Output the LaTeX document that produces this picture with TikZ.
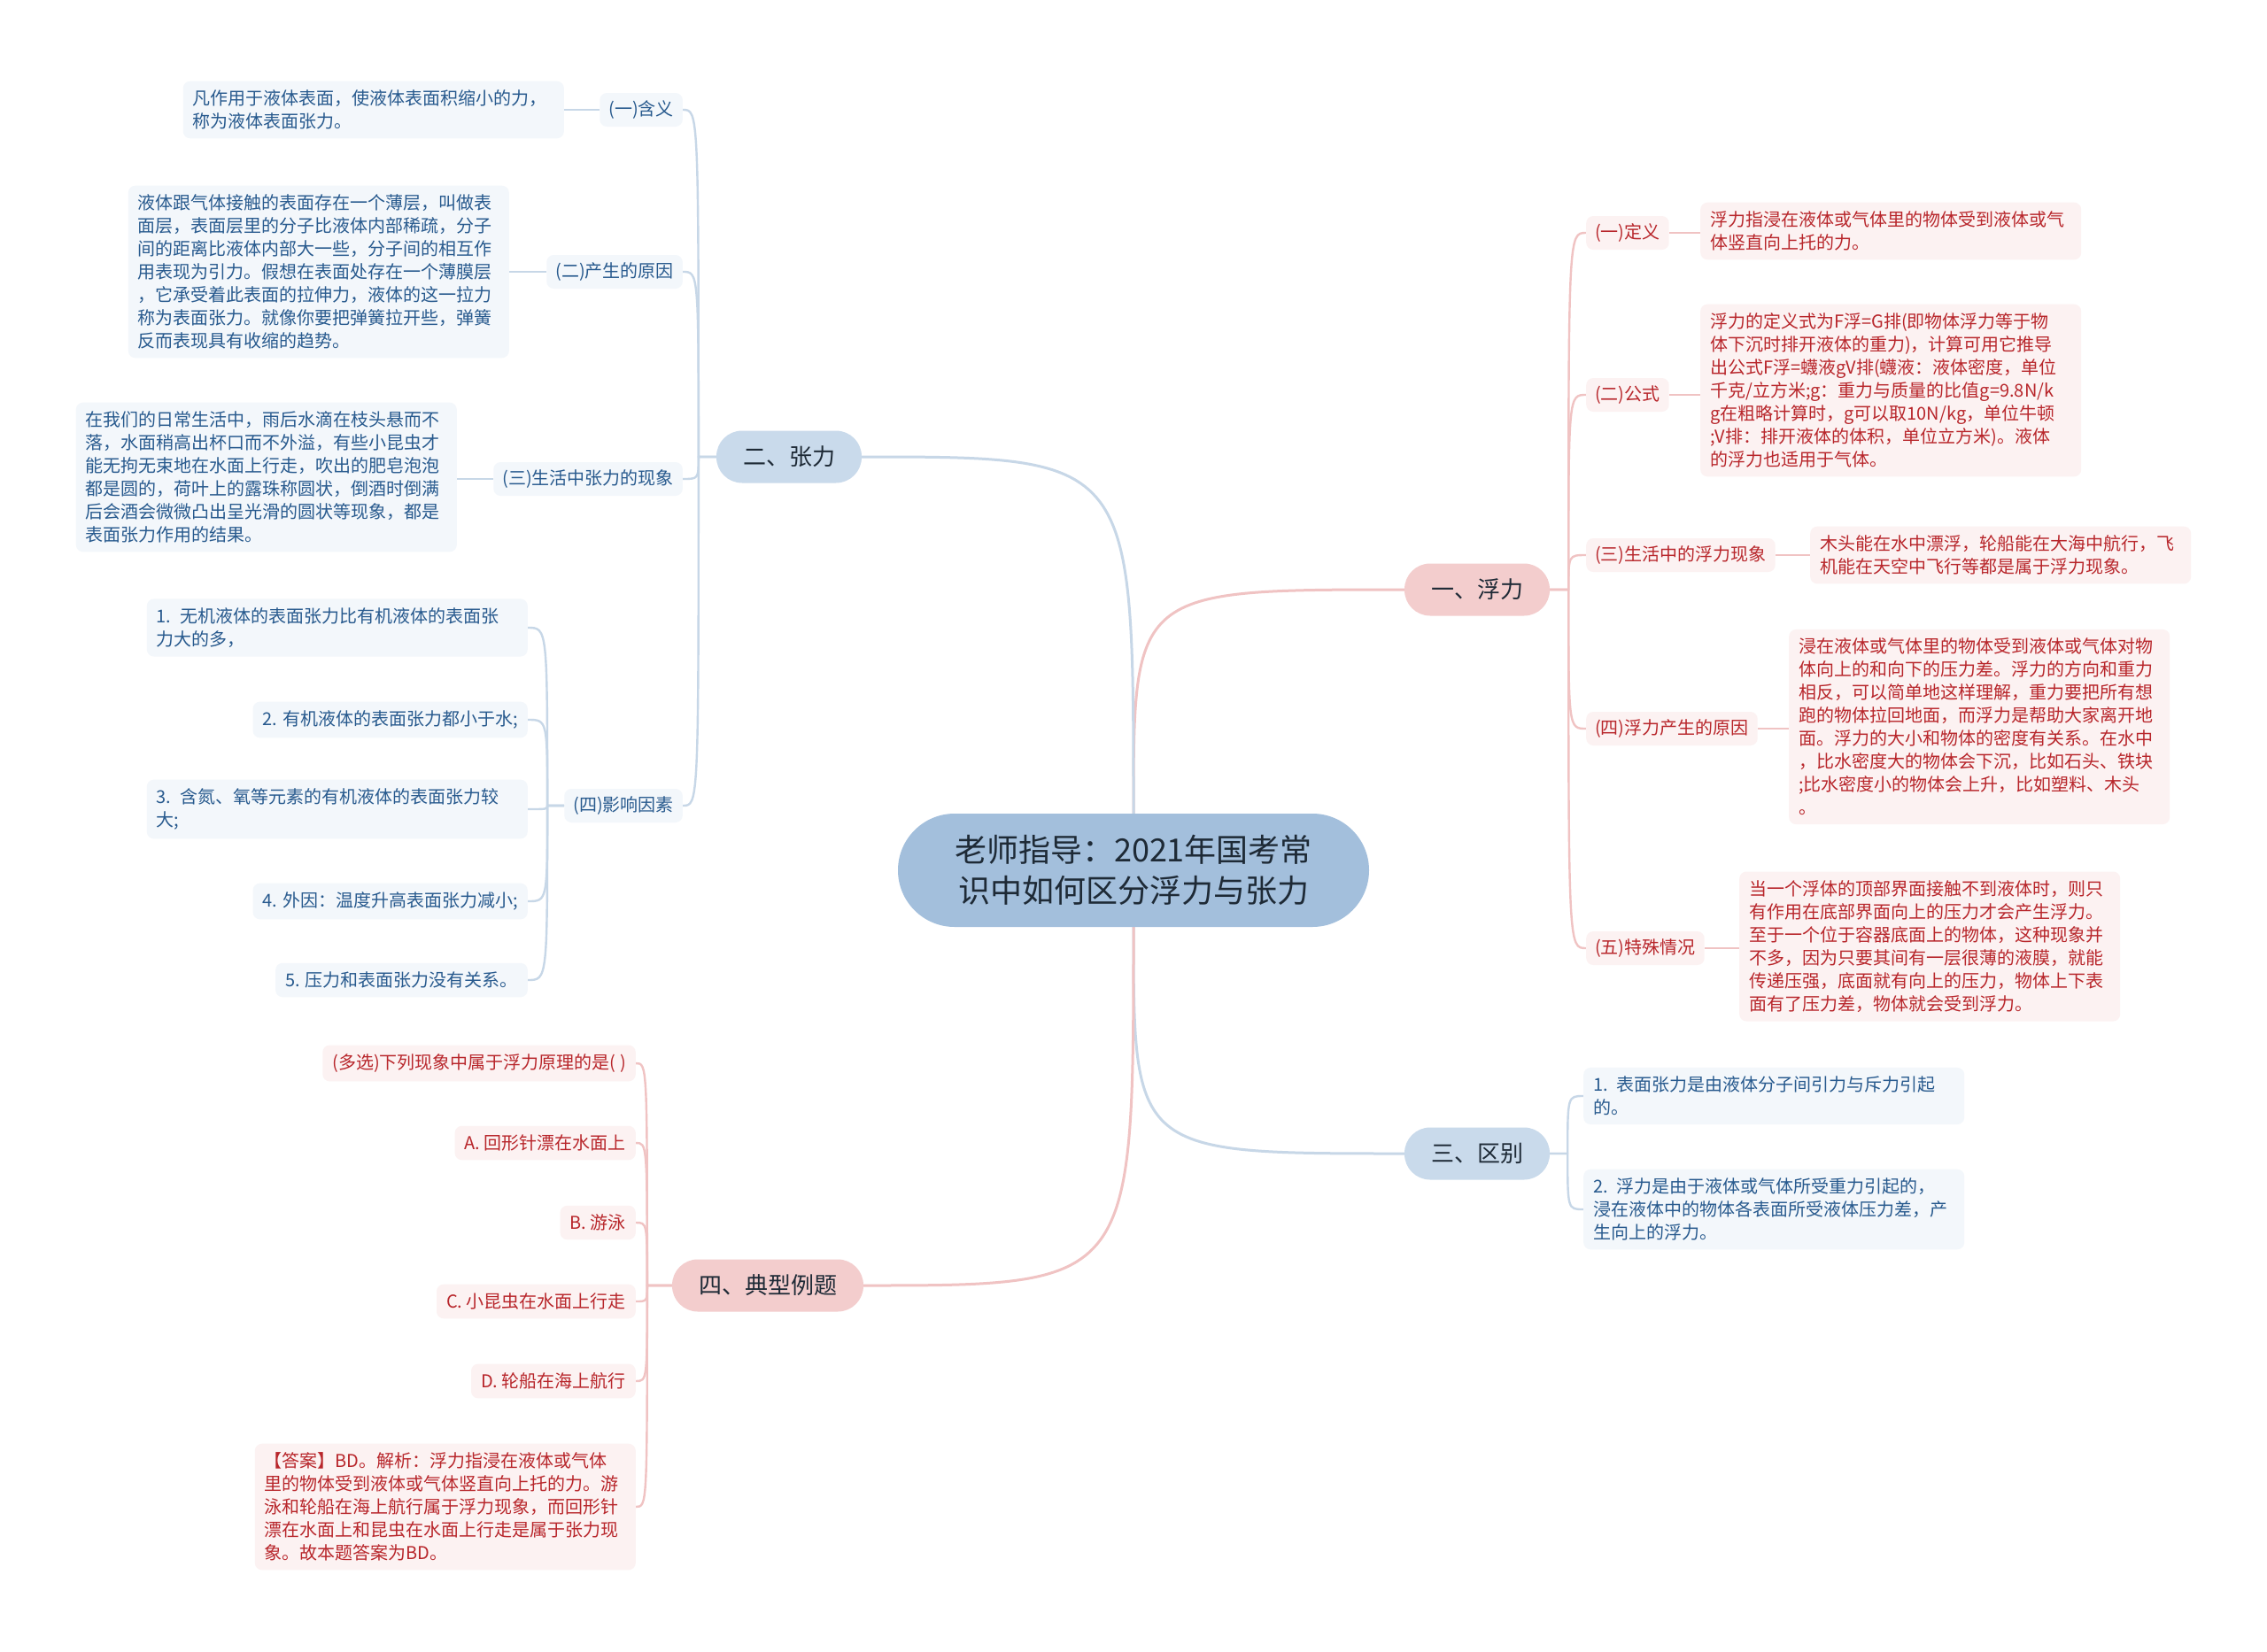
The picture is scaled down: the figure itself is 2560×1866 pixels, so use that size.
\documentclass[tikz,border=0pt]{standalone}
\usepackage{fontspec}
\setmainfont{Noto Sans CJK SC}
\definecolor{mainfill}{HTML}{A3BFDC}
\definecolor{pinkLone}{HTML}{F3CDCD}
\definecolor{blueLone}{HTML}{C9DAEB}
\definecolor{pinkbg}{HTML}{FCF2F2}
\definecolor{bluebg}{HTML}{F3F7FB}
\definecolor{redtxt}{HTML}{B8262B}
\definecolor{bluetxt}{HTML}{285A8E}
\definecolor{pinkline}{HTML}{F0C3C3}
\definecolor{blueline}{HTML}{C7D7E7}
\definecolor{darktxt}{HTML}{1E2A36}
\pgfdeclarelayer{paper}
\pgfdeclarelayer{bg}
\pgfsetlayers{paper,bg,main}
\tikzset{
  rootnode/.style={fill=mainfill, text=darktxt, rounded corners=64pt, minimum width=532pt, minimum height=128pt, align=center, font=\fontsize{36}{46}\selectfont, inner sep=0pt},
  lonep/.style={fill=pinkLone, text=darktxt, rounded corners=29pt, minimum height=59pt, font=\fontsize{26}{30}\selectfont, inner xsep=30pt, inner ysep=0pt},
  loneb/.style={lonep, fill=blueLone},
  rleaf/.style={fill=pinkbg, text=redtxt, rounded corners=8pt, align=left, font=\fontsize{20}{26}\selectfont, inner xsep=11pt, inner ysep=10pt},
  bleaf/.style={rleaf, fill=bluebg, text=bluetxt},
  rlab/.style={rleaf, minimum height=38pt, inner ysep=0pt, inner xsep=10pt},
  blab/.style={bleaf, minimum height=38pt, inner ysep=0pt, inner xsep=10pt},
  wide/.style={text width=408pt},
  pcon/.style={draw=pinkline, line width=2.4pt, line join=round},
  bcon/.style={draw=blueline, line width=2.4pt, line join=round},
  thick1/.style={line width=3pt},
}
\begin{document}
\begin{tikzpicture}[x=1pt,y=-1pt]
\begin{pgfonlayer}{paper}
\fill[white] (0,0) rectangle (2560,1866);
\end{pgfonlayer}
\useasboundingbox (0,0) rectangle (2560,1866);

% root and first level
\node[rootnode] (root) at (1280,983) {老师指导：2021年国考常\\识中如何区分浮力与张力};
\node[lonep] (fu) at (1668,666) {一、浮力};
\node[loneb] (zhang) at (891,516) {二、张力};
\node[loneb] (qu) at (1668,1303) {三、区别};
\node[lonep] (li) at (867,1452) {四、典型例题};

% 一、浮力
\node[rlab, anchor=west] (f1) at (1791,263) {(一)定义};
\node[rlab, anchor=west] (f2) at (1791,446) {(二)公式};
\node[rlab, anchor=west] (f3) at (1791,627) {(三)生活中的浮力现象};
\node[rlab, anchor=west] (f4) at (1791,823) {(四)浮力产生的原因};
\node[rlab, anchor=west] (f5) at (1791,1071) {(五)特殊情况};

\node[rleaf, wide, anchor=west] (f1c) at (1920,261) {浮力指浸在液体或气体里的物体受到液体或气\\体竖直向上托的力。};
\node[rleaf, wide, anchor=west] (f2c) at (1920,441) {浮力的定义式为F浮=G排(即物体浮力等于物\\体下沉时排开液体的重力)，计算可用它推导\\出公式F浮=蠛液gV排(蠛液：液体密度，单位\\千克/立方米;g：重力与质量的比值g=9.8N/k\\g在粗略计算时，g可以取10N/kg，单位牛顿\\;V排：排开液体的体积，单位立方米)。液体\\的浮力也适用于气体。};
\node[rleaf, wide, anchor=west] (f3c) at (2044,627) {木头能在水中漂浮，轮船能在大海中航行，飞\\机能在天空中飞行等都是属于浮力现象。};
\node[rleaf, wide, anchor=west] (f4c) at (2020,821) {浸在液体或气体里的物体受到液体或气体对物\\体向上的和向下的压力差。浮力的方向和重力\\相反，可以简单地这样理解，重力要把所有想\\跑的物体拉回地面，而浮力是帮助大家离开地\\面。浮力的大小和物体的密度有关系。在水中\\，比水密度大的物体会下沉，比如石头、铁块\\;比水密度小的物体会上升，比如塑料、木头\\。};
\node[rleaf, wide, anchor=west] (f5c) at (1964,1069) {当一个浮体的顶部界面接触不到液体时，则只\\有作用在底部界面向上的压力才会产生浮力。\\至于一个位于容器底面上的物体，这种现象并\\不多，因为只要其间有一层很薄的液膜，就能\\传递压强，底面就有向上的压力，物体上下表\\面有了压力差，物体就会受到浮力。};

% 三、区别
\node[bleaf, wide, anchor=west] (q1) at (1788,1238) {1. 表面张力是由液体分子间引力与斥力引起\\的。};
\node[bleaf, wide, anchor=west] (q2) at (1788,1366) {2. 浮力是由于液体或气体所受重力引起的，\\浸在液体中的物体各表面所受液体压力差，产\\生向上的浮力。};

% 二、张力
\node[blab, anchor=east] (z1) at (771,124) {(一)含义};
\node[blab, anchor=east] (z2) at (771,307) {(二)产生的原因};
\node[blab, anchor=east] (z3) at (771,541) {(三)生活中张力的现象};
\node[blab, anchor=east] (z4) at (771,910) {(四)影响因素};

\node[bleaf, wide, anchor=east] (z1c) at (637,124) {凡作用于液体表面，使液体表面积缩小的力，\\称为液体表面张力。};
\node[bleaf, wide, anchor=east] (z2c) at (575,307) {液体跟气体接触的表面存在一个薄层，叫做表\\面层，表面层里的分子比液体内部稀疏，分子\\间的距离比液体内部大一些，分子间的相互作\\用表现为引力。假想在表面处存在一个薄膜层\\，它承受着此表面的拉伸力，液体的这一拉力\\称为表面张力。就像你要把弹簧拉开些，弹簧\\反而表现具有收缩的趋势。};
\node[bleaf, wide, anchor=east] (z3c) at (516,539) {在我们的日常生活中，雨后水滴在枝头悬而不\\落，水面稍高出杯口而不外溢，有些小昆虫才\\能无拘无束地在水面上行走，吹出的肥皂泡泡\\都是圆的，荷叶上的露珠称圆状，倒酒时倒满\\后会酒会微微凸出呈光滑的圆状等现象，都是\\表面张力作用的结果。};

\node[bleaf, wide, anchor=east] (k1) at (596,709) {1. 无机液体的表面张力比有机液体的表面张\\力大的多，};
\node[bleaf, anchor=east] (k2) at (596,813) {2. 有机液体的表面张力都小于水;};
\node[bleaf, wide, anchor=east] (k3) at (596,914) {3. 含氮、氧等元素的有机液体的表面张力较\\大;};
\node[bleaf, anchor=east] (k4) at (596,1018) {4. 外因：温度升高表面张力减小;};
\node[bleaf, anchor=east] (k5) at (596,1107) {5. 压力和表面张力没有关系。};

% 四、典型例题
\node[rleaf, anchor=east] (d0) at (718,1201) {(多选)下列现象中属于浮力原理的是( )};
\node[rleaf, anchor=east] (da) at (718,1291) {A. 回形针漂在水面上};
\node[rleaf, anchor=east] (db) at (718,1381) {B. 游泳};
\node[rleaf, anchor=east] (dc) at (718,1470) {C. 小昆虫在水面上行走};
\node[rleaf, anchor=east] (dd) at (718,1560) {D. 轮船在海上航行};
\node[rleaf, wide, anchor=east] (de) at (718,1702) {【答案】BD。解析：浮力指浸在液体或气体\\里的物体受到液体或气体竖直向上托的力。游\\泳和轮船在海上航行属于浮力现象，而回形针\\漂在水面上和昆虫在水面上行走是属于张力现\\象。故本题答案为BD。};

% trunk points
\coordinate (fuT) at ([xshift=21pt]fu.east);
\coordinate (quT) at ([xshift=20pt]qu.east);
\coordinate (zhT) at ([xshift=-20pt]zhang.west);
\coordinate (z4T) at ([xshift=-19pt]z4.west);
\coordinate (liT) at ([xshift=-28pt]li.west);

\begin{pgfonlayer}{bg}
  \draw[pcon, thick1] (root.north) .. controls (root.north |- fu.west) .. (fu.west);
  \draw[bcon, thick1] (root.north) .. controls (root.north |- zhang.east) .. (zhang.east);
  \draw[bcon, thick1] (root.south) .. controls (root.south |- qu.west) .. (qu.west);
  \draw[pcon, thick1] (root.south) .. controls (root.south |- li.east) .. (li.east);

  \foreach \a in {f1,f2,f3,f4,f5} \draw[pcon] (fu.east) -- (fuT) .. controls (fuT |- \a.west) .. (\a.west);
  \foreach \a/\b in {f1/f1c,f2/f2c,f3/f3c,f4/f4c,f5/f5c} \draw[pcon] (\a.east) -- (\a.east -| \b.west);

  \foreach \a in {q1,q2} \draw[bcon] (qu.east) -- (quT) .. controls (quT |- \a.west) .. (\a.west);

  \foreach \a in {z1,z2,z3,z4} \draw[bcon] (zhang.west) -- (zhT) .. controls (zhT |- \a.east) .. (\a.east);
  \foreach \a/\b in {z1/z1c,z2/z2c,z3/z3c} \draw[bcon] (\a.west) -- (\a.west -| \b.east);
  \foreach \a in {k1,k2,k3,k4,k5} \draw[bcon] (z4.west) -- (z4T) .. controls (z4T |- \a.east) .. (\a.east);

  \foreach \a in {d0,da,db,dc,dd,de} \draw[pcon] (li.west) -- (liT) .. controls (liT |- \a.east) .. (\a.east);
\end{pgfonlayer}
\end{tikzpicture}
\end{document}
